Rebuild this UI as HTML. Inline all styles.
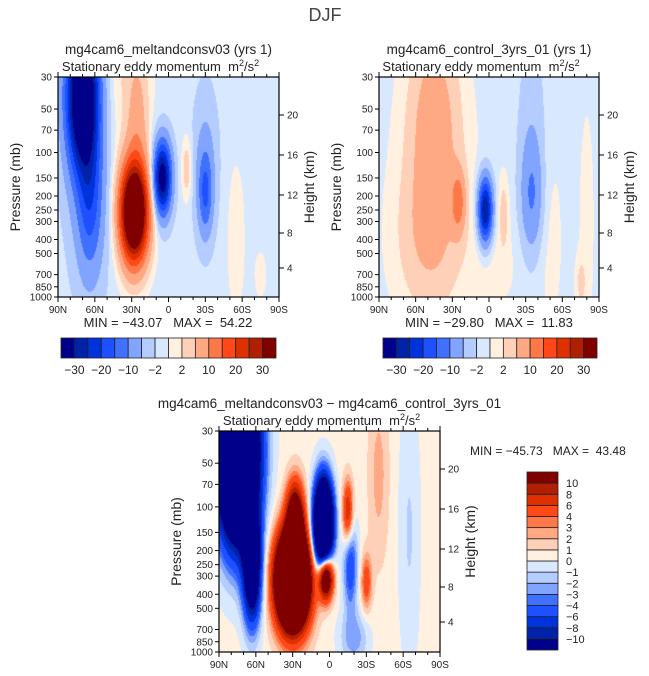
<!DOCTYPE html>
<html><head><meta charset="utf-8">
<style>
body{margin:0;background:#fff;}
#wrap{position:relative;width:649px;height:676px;overflow:hidden;font-family:"Liberation Sans",sans-serif;}
canvas{position:absolute;}
svg{position:absolute;left:0;top:0;}
text{white-space:pre;}
</style></head>
<body>
<div id="wrap">
<canvas id="c1" width="221" height="220" style="left:58px;top:77px"></canvas>
<canvas id="c2" width="220" height="220" style="left:379px;top:77px"></canvas>
<canvas id="c3" width="221" height="221" style="left:219px;top:431px"></canvas>
<svg id="ov" width="649" height="676"></svg>
</div>
<script>
const colors=['#00008a','#0022a8','#0032dc','#1e50ff','#4070ff','#80a4ff','#b4ccff','#d8e8ff','#fff0e0','#ffd0b8','#ffa884','#ff7848','#ff4818','#e03000','#b02000','#800000'];
const levelsTop=[-30,-25,-20,-15,-10,-5,-2,0,2,5,10,15,20,25,30];
const levelsDiff=[-10,-8,-6,-4,-3,-2,-1,0,1,2,3,4,6,8,10];
const pTicks=[30,50,70,100,150,200,250,300,400,500,700,850,1000];
const latTicks=[90,60,30,0,-30,-60,-90];
const latTickLabels=['90N','60N','30N','0','30S','60S','90S'];
const hTicks=[20,16,12,8,4];
const hOffsets=[38,78,118,156,191];
const topBarLabels=['\u221230','\u221220','\u221210','\u22122','2','10','20','30'];

// panel 1: lat, pressure, amplitude, lat width, ln-p width
const p1Lat=[70,64,28,25,5,-15,-30,-30,35,-55,-75,65];
const p1P=[40,220,260,60,150,130,190,120,30,400,700,150];
const p1Amp=[-45,-12,54,6,-35,5,-12,-5,3,2,2,-5];
const p1SL=[9,7,8,6,5,3,4,7,14,6,4,12];
const p1SP=[0.8,0.8,0.55,0.7,0.4,0.35,0.45,0.8,0.9,1.0,0.3,1.2];
const p1Base=-1;
// panel 2
const p2Lat=[45,25,3,-12,-35,-35,50,-5,-75,45,-50,-80];
const p2P=[60,220,250,260,200,80,400,600,800,200,400,300];
const p2Amp=[7,11,-30,4,-8,-3,4,1.5,3,2.5,1.5,1.5];
const p2SL=[14,4,4,3,6,8,18,15,3,22,8,5];
const p2SP=[1.1,0.35,0.35,0.4,0.6,1.2,0.8,0.5,0.3,1.5,1.2,1.5];
const p2Base=-0.8;
// difference panel
const p3Lat=[75,63,30,28,3,5,-15,-17,-30,-40,-65,-20];
const p3P=[40,250,320,120,300,130,110,250,330,60,150,800];
const p3Amp=[-45,-20,45,15,20,-40,8,-6,5,2,-1.5,-3];
const p3SL=[11,5,9,5,4,5,3,4,3,6,6,8];
const p3SP=[0.9,0.6,0.5,0.4,0.25,0.45,0.35,0.5,0.3,1.0,1.5,0.3];
const p3Base=0.4;

const LP0=Math.log(30),LP1=Math.log(1000);
function yOfP(p,h){return (Math.log(p)-LP0)/(LP1-LP0)*h;}
function pOfY(y,h){return Math.exp(LP0+y/h*(LP1-LP0));}
function xOfLat(l,w){return (90-l)/180*w;}
function latOfX(x,w){return 90-x/w*180;}
function hex(c){return [parseInt(c.substr(1,2),16),parseInt(c.substr(3,2),16),parseInt(c.substr(5,2),16)];}
const rgb=colors.map(hex);

function drawField(id,la,pp,am,sl,sp,base,levels){
  const cv=document.getElementById(id),ctx=cv.getContext('2d');
  const w=cv.width,h=cv.height,img=ctx.createImageData(w,h);
  for(let y=0;y<h;y++){const p=pOfY(y+0.5,h);
    for(let x=0;x<w;x++){const lat=latOfX(x+0.5,w);
      let v=base;
      for(let i=0;i<la.length;i++){const a=(lat-la[i])/sl[i],b=Math.log(p/pp[i])/sp[i];v+=am[i]*Math.exp(-0.5*(a*a+b*b));}
      let k=0;while(k<levels.length&&v>=levels[k])k++;
      const c=rgb[k],o=(y*w+x)*4;img.data[o]=c[0];img.data[o+1]=c[1];img.data[o+2]=c[2];img.data[o+3]=255;}}
  ctx.putImageData(img,0,0);
}
drawField('c1',p1Lat,p1P,p1Amp,p1SL,p1SP,p1Base,levelsTop);
drawField('c2',p2Lat,p2P,p2Amp,p2SL,p2SP,p2Base,levelsTop);
drawField('c3',p3Lat,p3P,p3Amp,p3SL,p3SP,p3Base,levelsDiff);

const NS='http://www.w3.org/2000/svg',ov=document.getElementById('ov');
function el(t,a,txt){const e=document.createElementNS(NS,t);for(const k in a)e.setAttribute(k,a[k]);if(txt!==undefined)e.textContent=txt;ov.appendChild(e);return e;}
function txt(x,y,s,size,anchor,name,rot){const e=el('text',{x:x,y:y,'font-size':size,'text-anchor':anchor||'middle',fill:'#222','font-family':'Liberation Sans, sans-serif'},s);
  if(rot)e.setAttribute('transform','rotate(-90 '+x+' '+y+')');
  
  return e;}

function axes(x0,y0,w,h,title,pref){
  const f=el('rect',{x:x0,y:y0,width:w,height:h,fill:'none',stroke:'#000','stroke-width':1.2});
  
  
  pTicks.forEach(p=>{const y=y0+yOfP(p,h);
    const t=el('line',{x1:x0-4,x2:x0,y1:y,y2:y,stroke:'#000'});
    
    
    txt(x0-6,y+3.5,String(p),10,'end',pref+'-p-label');});
  for(let l=90;l>=-90;l-=10){const x=x0+xOfLat(l,w),maj=l%30===0;
    const t=el('line',{x1:x,x2:x,y1:y0+h,y2:y0+h+(maj?5:3),stroke:'#000'});
    
    
    const t2=el('line',{x1:x,x2:x,y1:y0,y2:y0-(maj?5:3),stroke:'#000'});
    
    }
  latTicks.forEach((l,i)=>txt(x0+xOfLat(l,w),y0+h+16,latTickLabels[i],10,'middle',pref+'-lat-label'));
  hTicks.forEach((hk,i)=>{const y=y0+hOffsets[i];
    const t=el('line',{x1:x0+w,x2:x0+w+5,y1:y,y2:y,stroke:'#000'});
    
    
    txt(x0+w+8,y+3.5,String(hk),10,'start',pref+'-height-label');});
  txt(x0-38,y0+h/2,'Pressure (mb)',14,'middle',pref+'-y-axis-title',true);
  txt(x0+w+35,y0+h/2,'Height (km)',14,'middle',pref+'-right-axis-title',true);
  txt(x0+w/2,y0-23,title,13.5,'middle',pref+'-title');
  const s=txt(x0+w/2-8,y0-6,'',13,'middle',pref+'-subtitle');
  s.innerHTML='Stationary eddy momentum  m<tspan font-size="9" dy="-5">2</tspan><tspan dy="5">/s</tspan><tspan font-size="9" dy="-5">2</tspan>';
}
txt(325,21,'DJF',18,'middle','figure-title').setAttribute('fill','#444');
axes(58,77,221,220,'mg4cam6_meltandconsv03 (yrs 1)','panel1');
axes(379,77,220,220,'mg4cam6_control_3yrs_01 (yrs 1)','panel2');
axes(219,431,221,221,'mg4cam6_meltandconsv03 \u2212 mg4cam6_control_3yrs_01','diff');
txt(168,327,'MIN = \u221243.07   MAX =  54.22',13,'middle','panel1-minmax');
txt(489,327,'MIN = \u221229.80   MAX =  11.83',13,'middle','panel2-minmax');
txt(470,455,'MIN = \u221245.73   MAX =  43.48',12,'start','diff-minmax');

function hbar(x0,y0,w,h,pref){const bw=w/16;
  colors.forEach((c,i)=>{const r=el('rect',{x:x0+i*bw,y:y0,width:bw,height:h,fill:c,stroke:'#222','stroke-width':0.8});
    
    });
  topBarLabels.forEach((s,i)=>txt(x0+bw*(1+2*i),y0+h+16,s,12,'middle',pref+'-colorbar-label'));}
hbar(61,338,215,20,'panel1');
hbar(383,338,214,20,'panel2');
(function(){const x0=527,y0=472,w=31,h=178,bh=h/16;
  colors.forEach((c,i)=>{const r=el('rect',{x:x0,y:y0+(15-i)*bh,width:w,height:bh,fill:c,stroke:'#222','stroke-width':0.8});
    
    });
  levelsDiff.forEach((v,i)=>txt(x0+w+8,y0+(15-i)*bh+4,(v<0?'\u2212':'')+Math.abs(v),11,'start','diff-colorbar-label'));})();
</script>
</body></html>
